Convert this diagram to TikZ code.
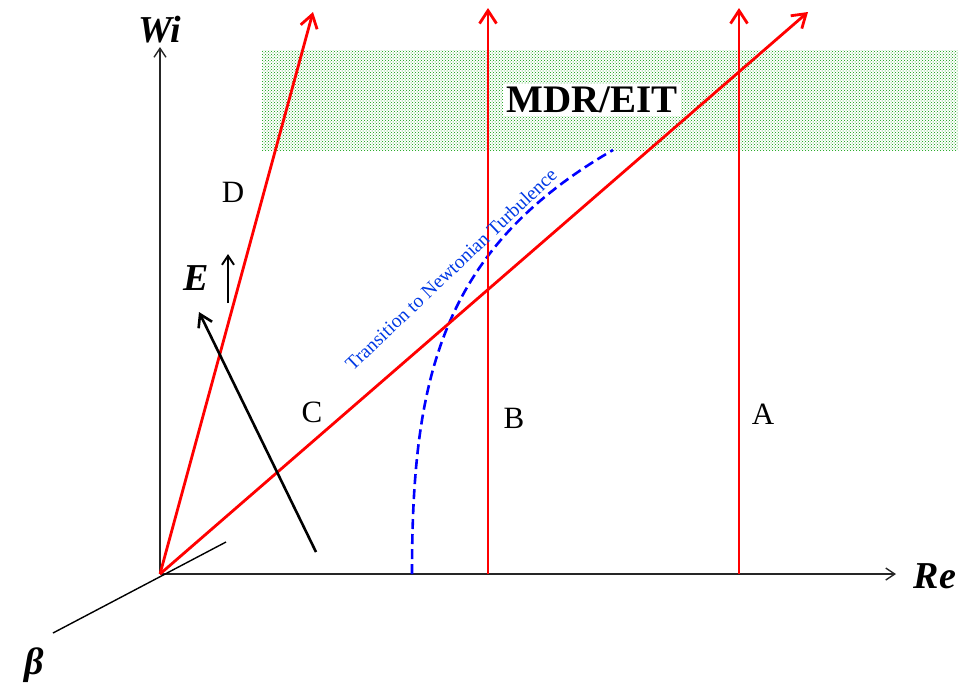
\documentclass[tikz,border=0pt]{standalone}
\usepackage{fontspec}
\setmainfont{Liberation Serif}
\usetikzlibrary{arrows.meta,patterns}
\begin{document}
\begin{tikzpicture}[x=1pt,y=-1pt,
  axis/.style={draw=black!85, line width=1.4pt, -{Straight Barb[length=9pt,width=12pt]}},
  redarrow/.style={draw=red, line width=2.8pt, -{Straight Barb[length=13pt,width=17pt]}},
  blackarrow/.style={draw=black, line width=2.6pt, -{Straight Barb[length=12pt,width=15pt]}},
  biglabel/.style={font=\bfseries\itshape\fontsize{38}{40}\selectfont, inner sep=0pt},
  plainlabel/.style={font=\fontsize{31}{34}\selectfont, inner sep=0pt},
  bluecurve/.style={draw=blue, line width=2.6pt, dash pattern=on 10pt off 5pt}
]
\useasboundingbox (0,0) rectangle (966,689);
% green band
\fill[pattern=crosshatch dots, pattern color=green!60!black] (262,50) rectangle (958,150);
% coordinates
\coordinate (O) at (160,574);
\coordinate (wtop) at (160,47);
\coordinate (rend) at (896,574);
\coordinate (bstart) at (53,633);
\coordinate (bend) at (226,542);
\coordinate (Dtip) at (313,12);
\coordinate (Ctip) at (808,12);
\coordinate (Bbot) at (488,574);
\coordinate (Btip) at (488,8);
\coordinate (Abot) at (739,574);
\coordinate (Atip) at (739,8);
\coordinate (Estart) at (316,552);
\coordinate (Etip) at (199,312);
\coordinate (ebot) at (228,303);
\coordinate (etop) at (228,254);
\coordinate (cstart) at (412,574);
\coordinate (cend) at (613,150);
% axes
\draw[axis] (O) -- (wtop);
\draw[axis] (O) -- (rend);
\draw[draw=black, line width=1.4pt] (bstart) -- (bend);
% blue dashed curve
\draw[bluecurve] (cstart) .. controls (412,380) and (440,250) .. (cend);
% red arrows
\draw[redarrow] (O) -- (Dtip);
\draw[redarrow] (O) -- (Ctip);
\draw[redarrow] (Bbot) -- (Btip);
\draw[redarrow] (Abot) -- (Atip);
% E arrow
\draw[blackarrow] (Estart) -- (Etip);
\draw[draw=black, line width=2pt, -{Straight Barb[length=9pt,width=12pt]}] (ebot) -- (etop);
% labels
\node[fill=white, inner sep=3pt, font=\bfseries\fontsize{39}{41}\selectfont] (mdr) at (592,100) {MDR/EIT};
\node[biglabel] (wi) at (160,30) {Wi};
\node[biglabel] (re) at (935,576) {Re};
\node[biglabel] (be) at (34,665) {β};
\node[biglabel] (E) at (196,278) {E};
\node[plainlabel] (D) at (233,192) {D};
\node[plainlabel] (C) at (312,412) {C};
\node[plainlabel] (B) at (514,418) {B};
\node[plainlabel] (A) at (763,414) {A};
\node[font=\fontsize{19.5}{21}\selectfont, text=blue!75!cyan!90!black, rotate=43.5, inner sep=0pt] (tnt) at (451,269) {Transition to Newtonian Turbulence};
\end{tikzpicture}
\end{document}
